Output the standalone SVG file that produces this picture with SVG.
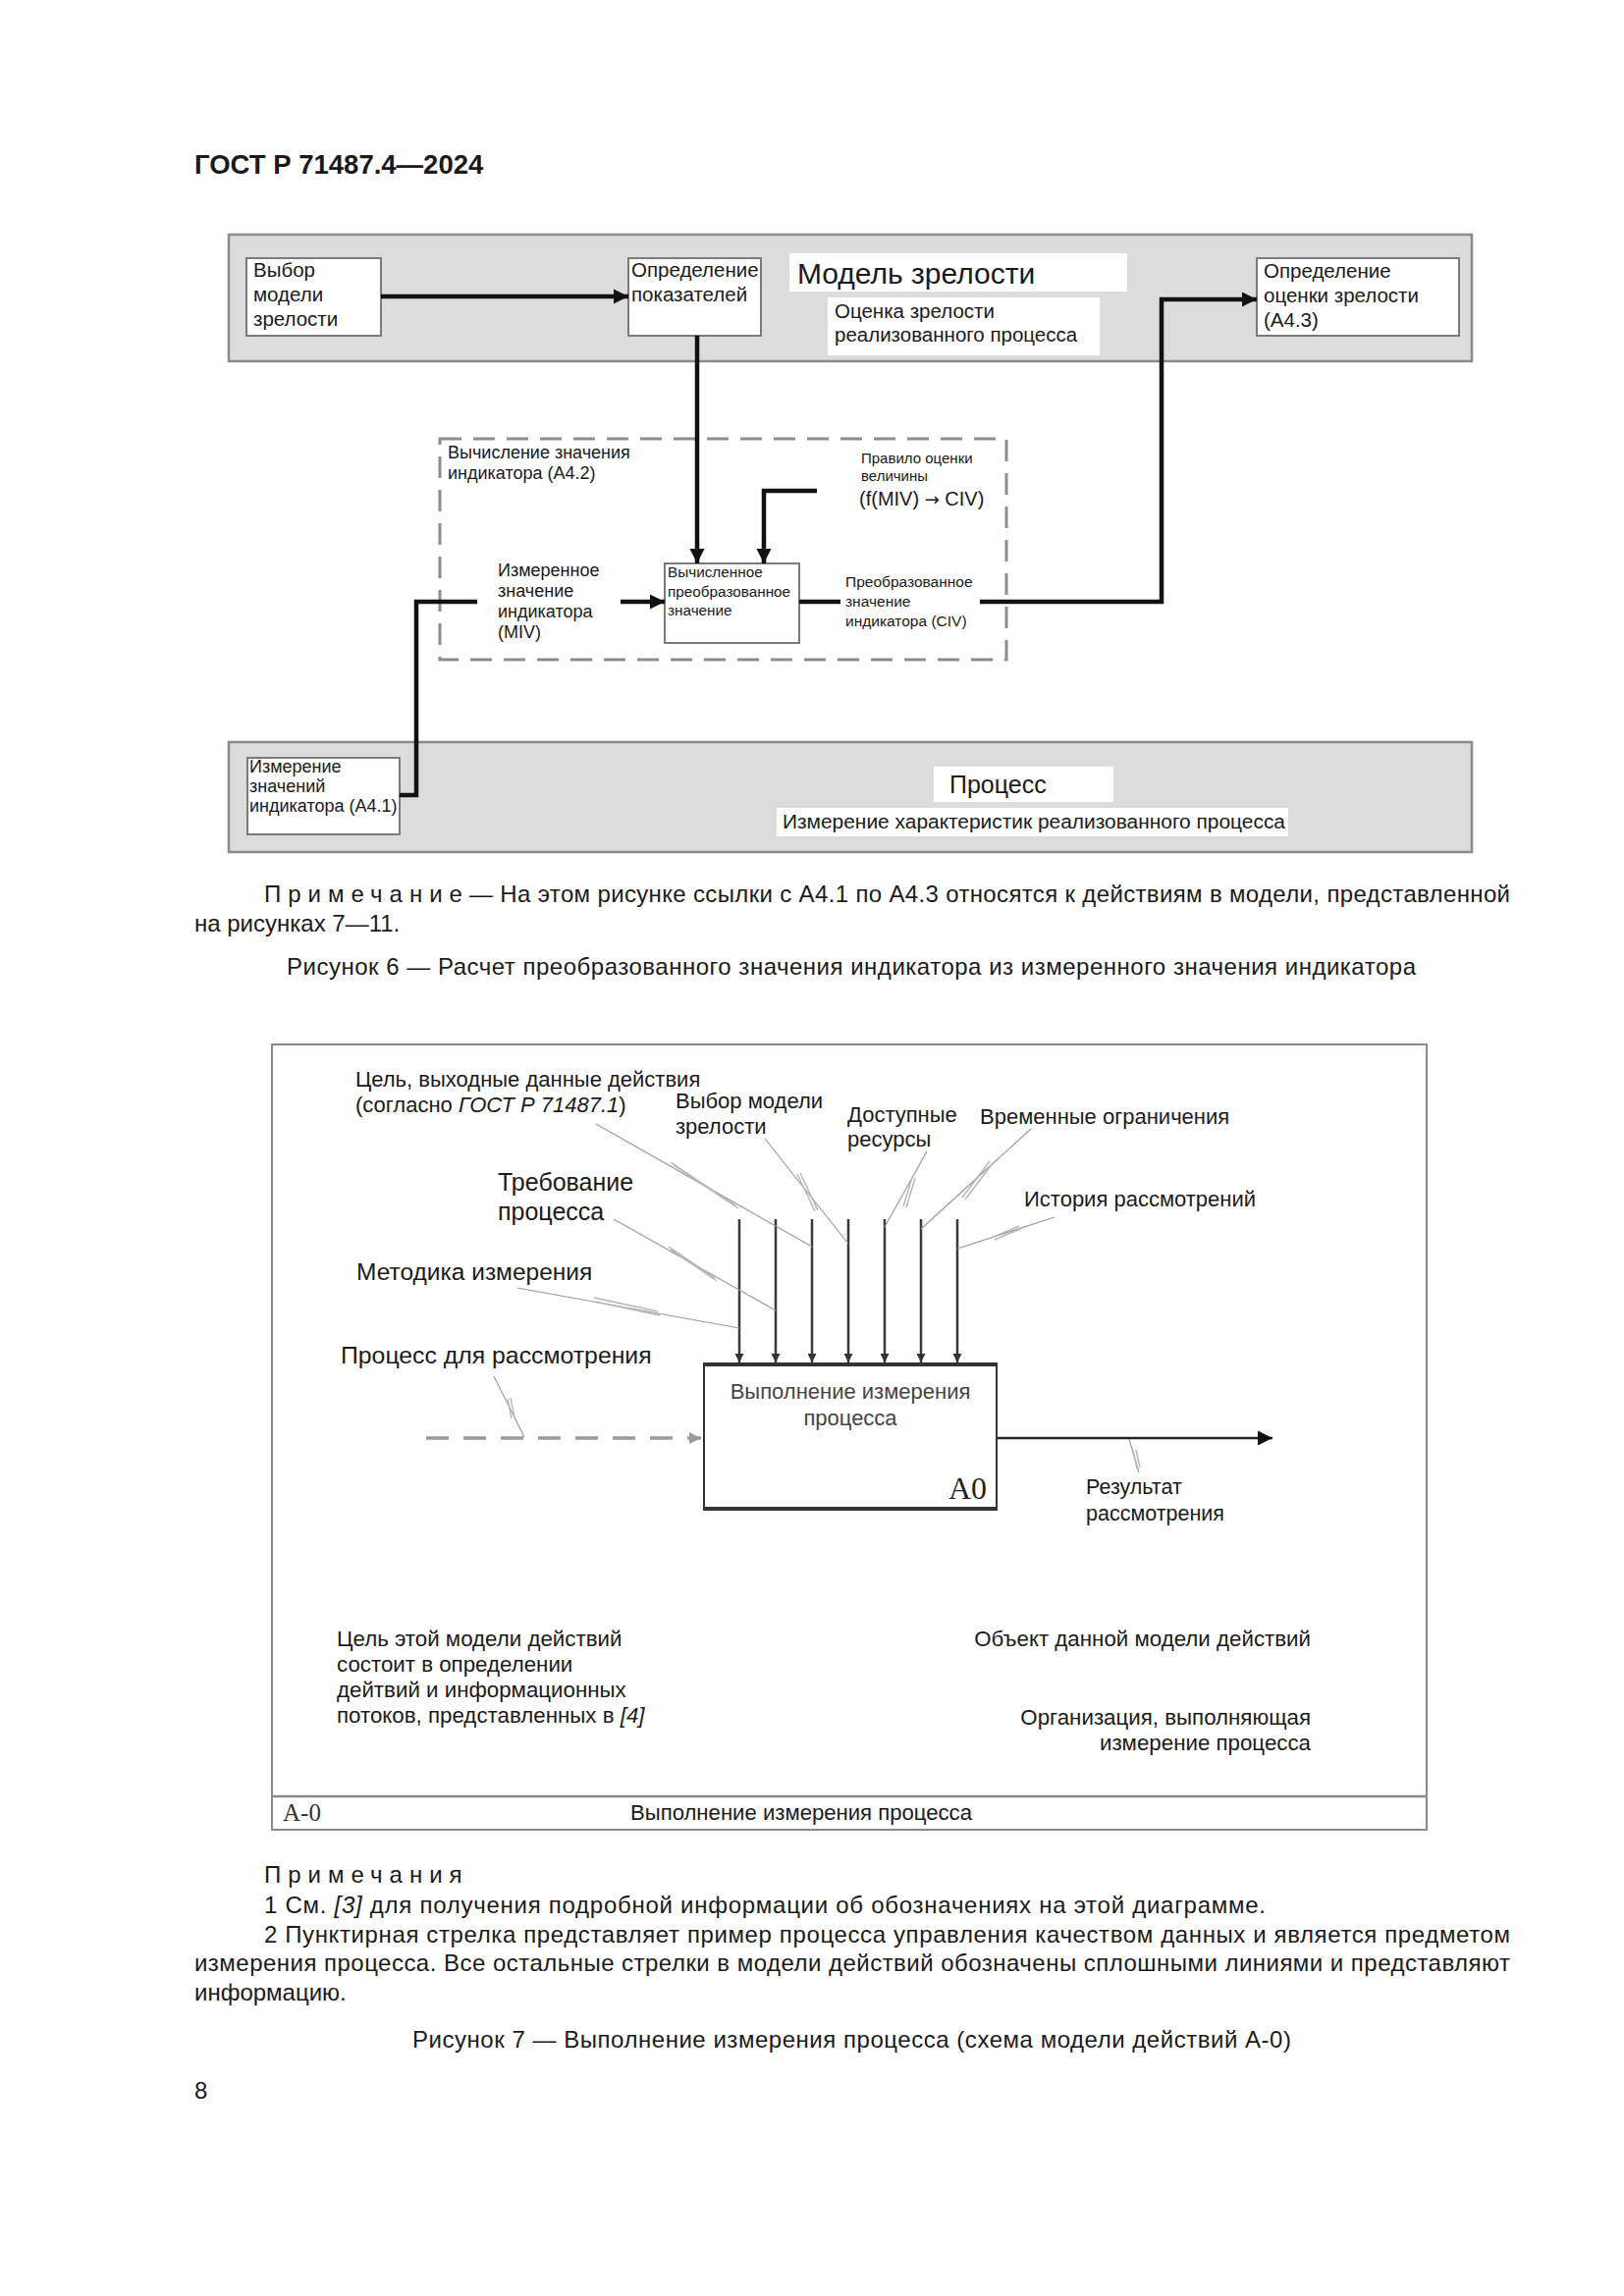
<svg xmlns="http://www.w3.org/2000/svg" width="1654" height="2339" viewBox="0 0 1654 2339">
<style>
.t{font-family:"Liberation Sans",Arial,sans-serif;fill:#1a1a1a}
.band{fill:#dcdcdc;stroke:#8a8a8a;stroke-width:2.5}
.box{fill:#fff;stroke:#7a7a7a;stroke-width:2}
.lbl{fill:#fff}
.conn{stroke:#111;stroke-width:4.5;fill:none}
.dash{fill:none;stroke:#8c8c8c;stroke-width:3;stroke-dasharray:22 12}
.ctl{stroke:#3a3a3a;stroke-width:2.5;fill:none}
.ld{stroke:#9a9a9a;stroke-width:1.2;fill:none}
.sq{stroke:#b5b5b5;stroke-width:1.4;fill:none}
.it{font-style:italic}
</style>
<defs>
<marker id="ah" viewBox="0 0 10 10" refX="10" refY="5" markerWidth="15" markerHeight="16" markerUnits="userSpaceOnUse" orient="auto"><path d="M0,0 L10,5 L0,10 z" fill="#111"/></marker>
<marker id="ahs" viewBox="0 0 10 10" refX="10" refY="5" markerWidth="12" markerHeight="9" markerUnits="userSpaceOnUse" orient="auto"><path d="M0,0 L10,5 L0,10 z" fill="#333"/></marker>
<marker id="ahg" viewBox="0 0 10 10" refX="10" refY="5" markerWidth="14" markerHeight="12" markerUnits="userSpaceOnUse" orient="auto"><path d="M0,0 L10,5 L0,10 z" fill="#9a9a9a"/></marker>
</defs>
<rect x="0" y="0" width="1654" height="2339" fill="#fff"/>

<text class="t" x="198" y="177" font-size="27.5" font-weight="bold">ГОСТ Р 71487.4—2024</text>

<!-- Figure 6 -->
<g id="band-maturity">
<rect class="band" x="233" y="239" width="1266" height="129"/>
<rect class="lbl" x="804" y="258" width="344" height="39"/>
<text class="t" x="812" y="289" font-size="30">Модель зрелости</text>
<rect class="lbl" x="843" y="303" width="277" height="59"/>
<text class="t" x="850" y="324" font-size="20.5">Оценка зрелости</text>
<text class="t" x="850" y="348" font-size="20.5">реализованного процесса</text>
</g>
<g id="node-select">
<rect class="box" x="251" y="263" width="137" height="79"/>
<text class="t" x="258" y="282" font-size="20.5">Выбор</text>
<text class="t" x="258" y="307" font-size="20.5">модели</text>
<text class="t" x="258" y="332" font-size="20.5">зрелости</text>
</g>
<g id="node-define">
<rect class="box" x="640" y="263" width="135" height="79"/>
<text class="t" x="643" y="282" font-size="20.5">Определение</text>
<text class="t" x="643" y="307" font-size="20.5">показателей</text>
</g>
<g id="node-assess">
<rect class="box" x="1280" y="263" width="206" height="79"/>
<text class="t" x="1287" y="283" font-size="20.5">Определение</text>
<text class="t" x="1287" y="308" font-size="20.5">оценки зрелости</text>
<text class="t" x="1287" y="333" font-size="20.5">(А4.3)</text>
</g>
<g id="group-calc">
<rect class="dash" x="448" y="447" width="577" height="225"/>
<text class="t" x="456" y="467" font-size="18">Вычисление значения</text>
<text class="t" x="456" y="488" font-size="18">индикатора (А4.2)</text>
<text class="t" x="877" y="472" font-size="15">Правило оценки</text>
<text class="t" x="877" y="490" font-size="15">величины</text>
<text class="t" x="875" y="515" font-size="20">(f(MIV) <tspan font-family="DejaVu Sans,sans-serif" font-size="18">→</tspan> CIV)</text>
<text class="t" x="507" y="587" font-size="18">Измеренное</text>
<text class="t" x="507" y="608" font-size="18">значение</text>
<text class="t" x="507" y="629" font-size="18">индикатора</text>
<text class="t" x="507" y="650" font-size="18">(MIV)</text>
<text class="t" x="861" y="598" font-size="15.5">Преобразованное</text>
<text class="t" x="861" y="618" font-size="15.5">значение</text>
<text class="t" x="861" y="638" font-size="15.5">индикатора (CIV)</text>
</g>
<g id="node-compute">
<rect class="box" x="677" y="574" width="137" height="81"/>
<text class="t" x="680" y="588" font-size="15.3">Вычисленное</text>
<text class="t" x="680" y="608" font-size="15.3">преобразованное</text>
<text class="t" x="680" y="627" font-size="15.3">значение</text>
</g>
<g id="band-process">
<rect class="band" x="233" y="756" width="1266" height="112"/>
<rect class="lbl" x="951" y="781" width="183" height="36"/>
<text class="t" x="967" y="808" font-size="25">Процесс</text>
<rect class="lbl" x="791" y="823" width="521" height="29"/>
<text class="t" x="797" y="844" font-size="20.5" textLength="512" lengthAdjust="spacingAndGlyphs">Измерение характеристик реализованного процесса</text>
</g>
<g id="node-measure">
<rect class="box" x="252" y="772" width="155" height="78"/>
<text class="t" x="254" y="787" font-size="18">Измерение</text>
<text class="t" x="254" y="807" font-size="18">значений</text>
<text class="t" x="254" y="827" font-size="18">индикатора (А4.1)</text>
</g>
<g id="connectors-fig6">
<path class="conn" d="M388,302 L640,302" marker-end="url(#ah)"/>
<path class="conn" d="M710,342 L710,574" marker-end="url(#ah)"/>
<path class="conn" d="M832,500 L778,500 L778,574" marker-end="url(#ah)"/>
<path class="conn" d="M407,810 L424,810 L424,613 L486,613"/>
<path class="conn" d="M632,613 L677,613" marker-end="url(#ah)"/>
<path class="conn" d="M814,613 L856,613"/>
<path class="conn" d="M998,613 L1183,613 L1183,305 L1280,305" marker-end="url(#ah)"/>
</g>

<text class="t" x="269" y="919" font-size="24" letter-spacing="7">Примечание</text>
<text class="t" x="478" y="919" font-size="24" textLength="1060" lengthAdjust="spacing">— На этом рисунке ссылки с А4.1 по А4.3 относятся к действиям в модели, представленной</text>
<text class="t" x="198" y="949" font-size="24">на рисунках 7—11.</text>
<text class="t" x="292" y="993" font-size="24" textLength="1150" lengthAdjust="spacing">Рисунок 6 — Расчет преобразованного значения индикатора из измеренного значения индикатора</text>

<!-- Figure 7 -->
<g id="frame-a0">
<rect x="277" y="1064" width="1176" height="800" fill="none" stroke="#8a8a8a" stroke-width="2"/>
<line x1="277" y1="1830" x2="1453" y2="1830" stroke="#8a8a8a" stroke-width="2.5"/>
<text x="288" y="1855" font-family="Liberation Serif,serif" font-size="25" fill="#333">A-0</text>
<text class="t" x="642" y="1854" font-size="21.5" textLength="348" lengthAdjust="spacingAndGlyphs">Выполнение измерения процесса</text>
</g>
<g id="labels-a0">
<text class="t" x="362" y="1107" font-size="22">Цель, выходные данные действия</text>
<text class="t" x="362" y="1133" font-size="22">(согласно <tspan class="it">ГОСТ Р 71487.1</tspan>)</text>
<text class="t" x="688" y="1129" font-size="22">Выбор модели</text>
<text class="t" x="688" y="1155" font-size="22">зрелости</text>
<text class="t" x="863" y="1143" font-size="22">Доступные</text>
<text class="t" x="863" y="1168" font-size="22">ресурсы</text>
<text class="t" x="998" y="1145" font-size="22">Временные ограничения</text>
<text class="t" x="1043" y="1229" font-size="22">История рассмотрений</text>
<text class="t" x="507" y="1213" font-size="25">Требование</text>
<text class="t" x="507" y="1243" font-size="25">процесса</text>
<text class="t" x="363" y="1304" font-size="24.5">Методика измерения</text>
<text class="t" x="347" y="1389" font-size="24.8">Процесс для рассмотрения</text>
<text class="t" x="1106" y="1522" font-size="21.5">Результат</text>
<text class="t" x="1106" y="1549" font-size="21.5">рассмотрения</text>
<text class="t" x="343" y="1677" font-size="22.3">Цель этой модели действий</text>
<text class="t" x="343" y="1703" font-size="22.3">состоит в определении</text>
<text class="t" x="343" y="1729" font-size="22.3">дейтвий и информационных</text>
<text class="t" x="343" y="1755" font-size="22.3">потоков, представленных в <tspan class="it">[4]</tspan></text>
<text class="t" x="1335" y="1677" font-size="22.3" text-anchor="end">Объект данной модели действий</text>
<text class="t" x="1335" y="1757" font-size="22.3" text-anchor="end">Организация, выполняющая</text>
<text class="t" x="1335" y="1783" font-size="22.3" text-anchor="end">измерение процесса</text>
</g>
<g id="node-a0">
<rect x="717" y="1390" width="298" height="147" fill="#fff" stroke="#333" stroke-width="2"/>
<line x1="716" y1="1390" x2="1016" y2="1390" stroke="#333" stroke-width="4"/>
<line x1="716" y1="1537" x2="1016" y2="1537" stroke="#333" stroke-width="4"/>
<text class="t" x="866" y="1425" font-size="22" text-anchor="middle" style="fill:#444">Выполнение измерения</text>
<text class="t" x="866" y="1452" font-size="22" text-anchor="middle" style="fill:#444">процесса</text>
<text x="1005" y="1527" font-family="Liberation Serif,serif" font-size="32" text-anchor="end" fill="#222">A0</text>
</g>
<g id="connectors-fig7">
<path class="ctl" d="M753,1242 L753,1388" marker-end="url(#ahs)"/>
<path class="ctl" d="M790,1242 L790,1388" marker-end="url(#ahs)"/>
<path class="ctl" d="M827,1242 L827,1388" marker-end="url(#ahs)"/>
<path class="ctl" d="M864,1242 L864,1388" marker-end="url(#ahs)"/>
<path class="ctl" d="M901,1242 L901,1388" marker-end="url(#ahs)"/>
<path class="ctl" d="M938,1242 L938,1388" marker-end="url(#ahs)"/>
<path class="ctl" d="M975,1242 L975,1388" marker-end="url(#ahs)"/>
<path d="M434,1465 L714,1465" fill="none" stroke="#9a9a9a" stroke-width="3.5" stroke-dasharray="23 15" marker-end="url(#ahg)"/>
<path d="M1016,1465 L1296,1465" fill="none" stroke="#222" stroke-width="2.5" marker-end="url(#ah)"/>
<path class="ld" d="M607,1145 L827,1270"/>
<path class="sq" d="M683,1184 L749,1228 M686,1187 L752,1231"/>
<path class="ld" d="M779,1160 L864,1267"/>
<path class="sq" d="M812,1196 L830,1234 M815,1195 L833,1233"/>
<path class="ld" d="M944,1173 L901,1250"/>
<path class="sq" d="M929,1199 L920,1229 M932,1200 L923,1230"/>
<path class="ld" d="M1050,1150 L938,1252"/>
<path class="sq" d="M1008,1183 L980,1220 M1011,1185 L983,1222"/>
<path class="ld" d="M1074,1240 L975,1272"/>
<path class="sq" d="M1038,1249 L1012,1260 M1039,1252 L1013,1263"/>
<path class="ld" d="M625,1242 L790,1335"/>
<path class="sq" d="M681,1270 L728,1302 M683,1273 L730,1305"/>
<path class="ld" d="M527,1312 L753,1353"/>
<path class="sq" d="M605,1322 L670,1336 M606,1326 L672,1340"/>
<path class="ld" d="M503,1402 L534,1464"/>
<path class="sq" d="M517,1425 L521,1445 M520,1424 L524,1444"/>
<path class="ld" d="M1150,1466 L1160,1500"/>
<path class="sq" d="M1154,1478 L1158,1496 M1157,1477 L1161,1495"/>
</g>

<text class="t" x="269" y="1918" font-size="24" letter-spacing="7">Примечания</text>
<text class="t" x="269" y="1949" font-size="24" textLength="1020" lengthAdjust="spacing">1 См. <tspan class="it">[3]</tspan> для получения подробной информации об обозначениях на этой диаграмме.</text>
<text class="t" x="269" y="1979" font-size="24" textLength="1269" lengthAdjust="spacing">2 Пунктирная стрелка представляет пример процесса управления качеством данных и является предметом</text>
<text class="t" x="198" y="2008" font-size="24" textLength="1340" lengthAdjust="spacing">измерения процесса. Все остальные стрелки в модели действий обозначены сплошными линиями и представляют</text>
<text class="t" x="198" y="2038" font-size="24">информацию.</text>
<text class="t" x="420" y="2086" font-size="24" textLength="895" lengthAdjust="spacing">Рисунок 7 — Выполнение измерения процесса (схема модели действий А-0)</text>
<text class="t" x="198" y="2138" font-size="24">8</text>
</svg>
